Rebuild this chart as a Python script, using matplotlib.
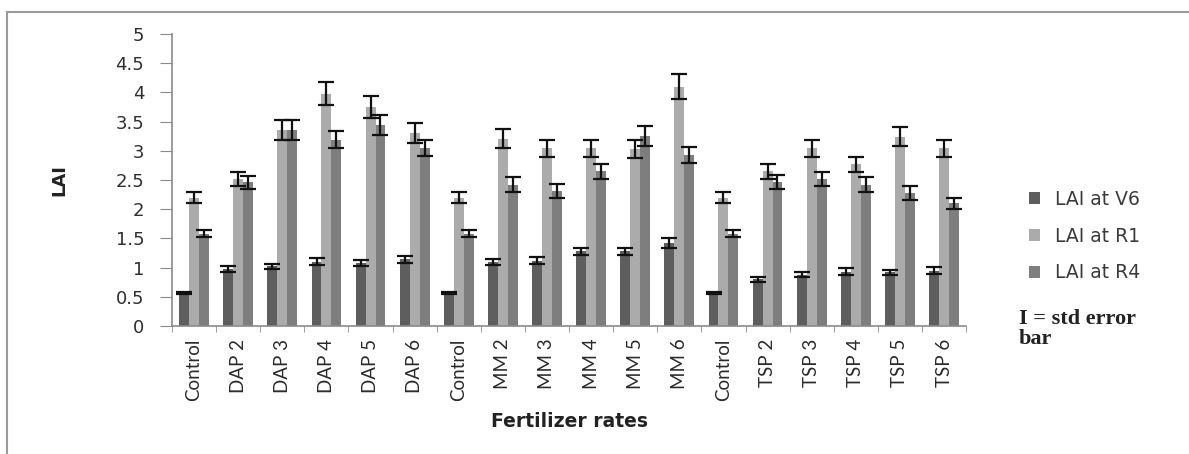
import numpy as np
import matplotlib.pyplot as plt
from matplotlib.patches import Patch, Rectangle

categories = ['Control', 'DAP 2', 'DAP 3', 'DAP 4', 'DAP 5', 'DAP 6',
              'Control', 'MM 2', 'MM 3', 'MM 4', 'MM 5', 'MM 6',
              'Control', 'TSP 2', 'TSP 3', 'TSP 4', 'TSP 5', 'TSP 6']

lai_v6 = [0.56, 0.98, 1.02, 1.10, 1.08, 1.14,
          0.56, 1.10, 1.12, 1.28, 1.28, 1.42,
          0.56, 0.80, 0.88, 0.93, 0.92, 0.95]
err_v6 = [0.02, 0.05, 0.05, 0.06, 0.05, 0.06,
          0.02, 0.05, 0.06, 0.06, 0.06, 0.08,
          0.02, 0.04, 0.04, 0.06, 0.04, 0.06]

lai_r1 = [2.20, 2.52, 3.36, 3.98, 3.75, 3.30,
          2.20, 3.21, 3.04, 3.04, 3.03, 4.10,
          2.20, 2.65, 3.04, 2.77, 3.24, 3.04]
err_r1 = [0.10, 0.12, 0.17, 0.20, 0.18, 0.17,
          0.10, 0.16, 0.14, 0.14, 0.16, 0.21,
          0.10, 0.13, 0.14, 0.13, 0.16, 0.14]

lai_r4 = [1.58, 2.46, 3.36, 3.19, 3.44, 3.05,
          1.58, 2.42, 2.32, 2.65, 3.25, 2.93,
          1.58, 2.46, 2.51, 2.42, 2.27, 2.10]
err_r4 = [0.06, 0.11, 0.17, 0.15, 0.17, 0.14,
          0.06, 0.13, 0.12, 0.13, 0.17, 0.14,
          0.06, 0.12, 0.12, 0.13, 0.12, 0.10]

series = [('LAI at V6', lai_v6, err_v6, '#5e5e5e'),
          ('LAI at R1', lai_r1, err_r1, '#ababab'),
          ('LAI at R4', lai_r4, err_r4, '#7e7e7e')]

fig = plt.figure(figsize=(11.89, 4.54), dpi=100)
ax = fig.add_axes([0.1447, 0.2819, 0.8125 - 0.1447, 0.9251 - 0.2819])

# outer frame, running off the right and bottom edges
fig.patches.append(Rectangle((7 / 1189, -0.1), 1.2, 1 - 12 / 454 + 0.1,
                             transform=fig.transFigure, fill=False,
                             edgecolor='#9a9a9a', linewidth=1.5))

x = np.arange(len(categories))
w = 0.225
for i, (name, vals, errs, col) in enumerate(series):
    ax.bar(x + (i - 1) * w, vals, w, color=col, yerr=errs,
           error_kw=dict(ecolor='#111111', elinewidth=1.6, capsize=5.5, capthick=1.6))

ax.set_xlim(-0.5, len(categories) - 0.5)
ax.set_ylim(0, 5)
ax.set_yticks(np.arange(0, 5.01, 0.5))
ax.set_yticklabels(['0', '0.5', '1', '1.5', '2', '2.5', '3', '3.5', '4', '4.5', '5'],
                   fontsize=13, color='#2e2e2e')
ax.set_xticks(x)
ax.set_xticklabels(categories, rotation=90, fontsize=13.5, family='Lato', color='#2a2a2a')
ax.set_xticks(np.arange(-0.5, len(categories), 1), minor=True)
ax.tick_params(axis='x', which='major', length=0, pad=9)
ax.tick_params(axis='x', which='minor', length=4, color='#8a8a8a')
ax.tick_params(axis='y', length=9, color='#8a8a8a', pad=11)

for side in ['top', 'right']:
    ax.spines[side].set_visible(False)
for side in ['left', 'bottom']:
    ax.spines[side].set_color('#8a8a8a')
    ax.spines[side].set_linewidth(1.2)

ax.set_ylabel('LAI', fontsize=13, fontweight='bold', color='#222222')
ax.yaxis.set_label_coords(-0.13, 0.5)
ax.set_xlabel('Fertilizer rates', fontsize=13.5, fontweight='bold', color='#222222', labelpad=8)

handles = [Patch(facecolor=col, edgecolor='none') for _, _, _, col in series]
fig.legend(handles, [s[0] for s in series], loc='upper left',
           bbox_to_anchor=(1012 / 1189, 1 - 173 / 454), frameon=False,
           fontsize=13.5, labelcolor='#3a3a3a', handlelength=0.6, handleheight=0.6,
           handletextpad=0.8, labelspacing=0.95)
fig.text(1019 / 1189, 1 - 329 / 454, 'I = std error\nbar', family='Liberation Serif',
         fontsize=16, fontweight='bold', color='#222222', va='center', linespacing=1.0)

fig.savefig('out.png', dpi=100)
